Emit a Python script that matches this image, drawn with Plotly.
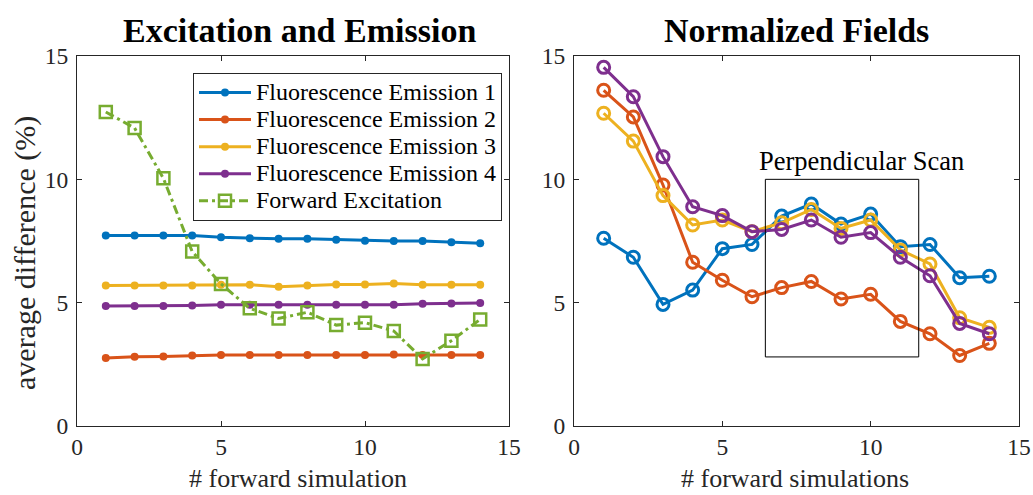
import plotly.graph_objects as go

# ---------------- data ----------------
sims = list(range(1, 15))

# Left panel: Excitation and Emission
ex_fe1 = [7.72, 7.72, 7.72, 7.72, 7.65, 7.61, 7.59, 7.59, 7.55, 7.51, 7.50, 7.50, 7.45, 7.41]
ex_fe2 = [2.76, 2.81, 2.82, 2.86, 2.88, 2.88, 2.88, 2.88, 2.88, 2.88, 2.90, 2.88, 2.88, 2.88]
ex_fe3 = [5.70, 5.70, 5.70, 5.70, 5.73, 5.73, 5.65, 5.70, 5.74, 5.74, 5.78, 5.73, 5.73, 5.73]
ex_fe4 = [4.86, 4.86, 4.86, 4.89, 4.92, 4.92, 4.92, 4.92, 4.92, 4.92, 4.92, 4.96, 4.97, 4.99]
ex_fwd = [12.73, 12.08, 10.04, 7.07, 5.76, 4.77, 4.36, 4.61, 4.09, 4.19, 3.85, 2.72, 3.46, 4.32]

# Right panel: Normalized Fields
nf_fe1 = [7.61, 6.84, 4.93, 5.51, 7.19, 7.36, 8.51, 9.00, 8.19, 8.59, 7.27, 7.36, 6.01, 6.07]
nf_fe2 = [13.61, 12.53, 9.77, 6.64, 5.91, 5.24, 5.61, 5.86, 5.15, 5.34, 4.24, 3.74, 2.86, 3.35]
nf_fe3 = [12.68, 11.55, 9.34, 8.15, 8.35, 7.88, 8.24, 8.78, 8.01, 8.35, 7.14, 6.57, 4.39, 4.00]
nf_fe4 = [14.54, 13.35, 10.92, 8.89, 8.53, 7.88, 7.97, 8.35, 7.65, 7.84, 6.84, 6.09, 4.16, 3.74]

series_names = ["Fluorescence Emission 1", "Fluorescence Emission 2",
                "Fluorescence Emission 3", "Fluorescence Emission 4"]
fwd_name = "Forward Excitation"

x_ticks = [0, 5, 10, 15]
y_ticks = [0, 5, 10, 15]

# Perpendicular scan box (data coords of right panel)
scan_x = [6.45, 11.62]
scan_y = [2.8, 10.0]
scan_label = "Perpendicular Scan"

titles = ["Excitation and Emission", "Normalized Fields"]
xlabels = ["# forward simulation", "# forward simulations"]
ylabel = "average difference (%)"

# ---------------- style ----------------
colors = ["#0072BD", "#D95319", "#EDB120", "#7E2F8E"]
green = "#77AC30"
axc = "#262626"
FONT = "Liberation Serif, Times New Roman, serif"
W, H = 1033, 495


def leg(name):
    # legend text drawn at 24px while the row pitch follows the legend font size
    return '<span style="font-size:24px">' + name + "</span>"


fig = go.Figure()

for name, ys, c in zip(series_names, [ex_fe1, ex_fe2, ex_fe3, ex_fe4], colors):
    fig.add_trace(go.Scatter(
        x=sims, y=ys, name=leg(name), mode="lines+markers",
        line=dict(color=c, width=3),
        marker=dict(symbol="circle", size=8, color=c),
        xaxis="x", yaxis="y"))

fig.add_trace(go.Scatter(
    x=sims, y=ex_fwd, name=leg(fwd_name), mode="lines+markers",
    line=dict(color=green, width=3, dash="9px,4px,3px,4px"),
    marker=dict(symbol="square-open", size=12, color=green, line=dict(width=2.5, color=green)),
    xaxis="x", yaxis="y"))

for name, ys, c in zip(series_names, [nf_fe1, nf_fe2, nf_fe3, nf_fe4], colors):
    fig.add_trace(go.Scatter(
        x=sims, y=ys, name=name, mode="lines+markers", showlegend=False,
        line=dict(color=c, width=3),
        marker=dict(symbol="circle-open", size=12, color=c, line=dict(width=3, color=c)),
        xaxis="x2", yaxis="y2"))

fig.add_shape(type="rect", xref="x2", yref="y2",
              x0=scan_x[0], x1=scan_x[1], y0=scan_y[0], y1=scan_y[1],
              line=dict(color="#000000", width=1))

fig.add_annotation(x=9.7, y=10.74, xref="x2", yref="y2", text=scan_label,
                   showarrow=False, xanchor="center", yanchor="middle",
                   font=dict(family=FONT, size=26.5, color="#000000"))

xd1 = [77 / W, 509 / W]
xd2 = [574 / W, 1019 / W]
yd = [(H - 426) / H, (H - 56) / H]

axis_common = dict(
    showline=True, mirror="ticks", linecolor=axc, linewidth=1,
    ticks="inside", ticklen=5, tickcolor=axc, tickwidth=1,
    showgrid=False, zeroline=False, automargin=False,
    tickfont=dict(family=FONT, size=23.5, color=axc),
)

fig.update_layout(
    width=W, height=H,
    margin=dict(l=0, r=0, t=0, b=0),
    paper_bgcolor="white", plot_bgcolor="white",
    font=dict(family=FONT, color=axc),
    xaxis=dict(domain=xd1, range=[0, 15], tickvals=x_ticks, anchor="y",
               ticklabelstandoff=0, **axis_common),
    yaxis=dict(domain=yd, range=[0, 15], tickvals=y_ticks, anchor="x",
               ticklabelstandoff=3, **axis_common),
    xaxis2=dict(domain=xd2, range=[0, 15], tickvals=x_ticks, anchor="y2",
                ticklabelstandoff=0, **axis_common),
    yaxis2=dict(domain=yd, range=[0, 15], tickvals=y_ticks, anchor="x2",
                ticklabelstandoff=3, **axis_common),
    legend=dict(x=193 / W, y=(H - 73) / H, xanchor="left", yanchor="top",
                bgcolor="white", bordercolor=axc, borderwidth=1,
                font=dict(family=FONT, size=18.5, color="#000000"),
                itemwidth=52, tracegroupgap=0),
    showlegend=True,
)

# titles
for txt, cx in zip(titles, [299, 796.5]):
    fig.add_annotation(x=cx / W, y=(H - 31) / H, xref="paper", yref="paper",
                       text="<b>" + txt + "</b>", showarrow=False,
                       xanchor="center", yanchor="middle",
                       font=dict(family=FONT, size=34, color="#000000"))

# x labels
for txt, cx in zip(xlabels, [298, 795]):
    fig.add_annotation(x=cx / W, y=0, xref="paper", yref="paper",
                       text=txt, showarrow=False, xanchor="center", yanchor="bottom",
                       font=dict(family=FONT, size=26, color=axc))

# y label
fig.add_annotation(x=25 / W, y=(H - 253) / H, xref="paper", yref="paper",
                   text=ylabel, showarrow=False, textangle=-90,
                   xanchor="center", yanchor="middle",
                   font=dict(family=FONT, size=30, color=axc))

fig.write_html("out.html")
